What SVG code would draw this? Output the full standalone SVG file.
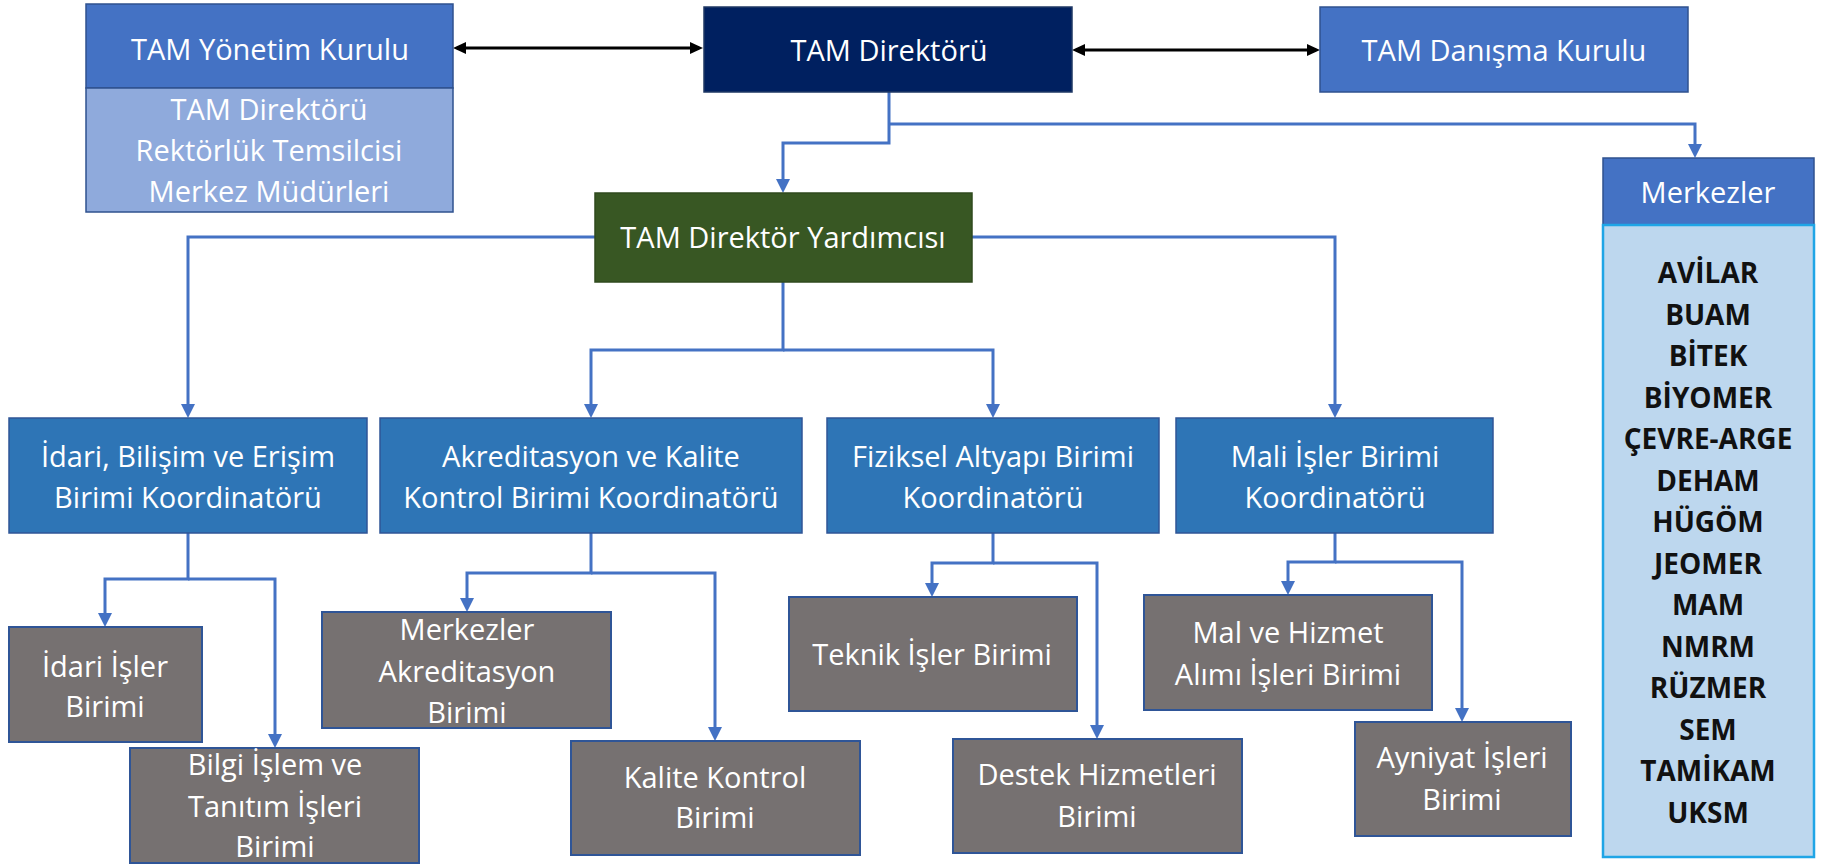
<svg xmlns="http://www.w3.org/2000/svg" width="1823" height="864" viewBox="0 0 1823 864">
<style>
text{font-family:"Open Sans","Noto Sans","Liberation Sans",sans-serif;font-size:29px;fill:#fff;text-anchor:middle}
.list text{fill:#111;font-weight:bold;font-size:28px}
.hdr{fill:#4472C4;stroke:#2F528F;stroke-width:1.5}
.sub{fill:#8FAADC;stroke:#2F528F;stroke-width:1.5}
.coord{fill:#2E75B6;stroke:#2F5597;stroke-width:1.5}
.unit{fill:#767171;stroke:#2F5597;stroke-width:2}
.conn{fill:none;stroke:#4472C4;stroke-width:3}
.bi{fill:none;stroke:#000;stroke-width:3}
</style>
<defs>
<marker id="ab" markerUnits="userSpaceOnUse" markerWidth="16" markerHeight="16" refX="10" refY="7" orient="auto"><path d="M0,0 L14,7 L0,14 z" fill="#4472C4"/></marker>
<marker id="ak" markerUnits="userSpaceOnUse" markerWidth="16" markerHeight="14" refX="9" refY="6" orient="auto-start-reverse"><path d="M0,0 L13,6 L0,12 z" fill="#000"/></marker>
</defs>
<rect width="1823" height="864" fill="#fff"/>
<g id="connectors">
<path class="bi" d="M457 48 H699" marker-start="url(#ak)" marker-end="url(#ak)"/>
<path class="bi" d="M1076 50 H1316" marker-start="url(#ak)" marker-end="url(#ak)"/>
<path class="conn" d="M889 92 V143 H783 V189" marker-end="url(#ab)"/>
<path class="conn" d="M889 124 H1695 V154" marker-end="url(#ab)"/>
<path class="conn" d="M595 237 H188 V414" marker-end="url(#ab)"/>
<path class="conn" d="M972 237 H1335 V414" marker-end="url(#ab)"/>
<path class="conn" d="M783 282 V350 H591 V414" marker-end="url(#ab)"/>
<path class="conn" d="M783 350 H993 V414" marker-end="url(#ab)"/>
<path class="conn" d="M188 533 V579 H105 V623" marker-end="url(#ab)"/>
<path class="conn" d="M188 579 H275 V744" marker-end="url(#ab)"/>
<path class="conn" d="M591 533 V573 H467 V608" marker-end="url(#ab)"/>
<path class="conn" d="M591 573 H715 V737" marker-end="url(#ab)"/>
<path class="conn" d="M993 533 V563 H932 V593" marker-end="url(#ab)"/>
<path class="conn" d="M993 563 H1097 V735" marker-end="url(#ab)"/>
<path class="conn" d="M1335 533 V562 H1288 V591" marker-end="url(#ab)"/>
<path class="conn" d="M1335 562 H1462 V718" marker-end="url(#ab)"/>
</g>
<g id="yonetim">
<rect class="hdr" x="86" y="4" width="367" height="84"/>
<rect class="sub" x="86" y="88" width="367" height="124"/>
<text x="270" y="60">TAM Yönetim Kurulu</text>
<text x="269" y="120">TAM Direktörü</text>
<text x="269" y="161">Rektörlük Temsilcisi</text>
<text x="269" y="202">Merkez Müdürleri</text>
</g>
<g id="direktor">
<rect x="704" y="7" width="368" height="85" fill="#002060" stroke="#1F3864" stroke-width="1.5"/>
<text x="889" y="61">TAM Direktörü</text>
</g>
<g id="danisma">
<rect class="hdr" x="1320" y="7" width="368" height="85"/>
<text x="1504" y="61">TAM Danışma Kurulu</text>
</g>
<g id="yardimci">
<rect x="595" y="193" width="377" height="89" fill="#385723" stroke="#2F4A1E" stroke-width="1.5"/>
<text x="783" y="248">TAM Direktör Yardımcısı</text>
</g>
<g id="merkezler">
<rect class="hdr" x="1603" y="158" width="211" height="67"/>
<text x="1708" y="203">Merkezler</text>
<rect x="1603" y="225" width="211" height="632" fill="#BDD7EE" stroke="#1FA5E6" stroke-width="2.5"/>
<g class="list">
<text x="1708" y="283">AVİLAR</text>
<text x="1708" y="325">BUAM</text>
<text x="1708" y="366">BİTEK</text>
<text x="1708" y="408">BİYOMER</text>
<text x="1708" y="449">ÇEVRE-ARGE</text>
<text x="1708" y="491">DEHAM</text>
<text x="1708" y="532">HÜGÖM</text>
<text x="1708" y="574">JEOMER</text>
<text x="1708" y="615">MAM</text>
<text x="1708" y="657">NMRM</text>
<text x="1708" y="698">RÜZMER</text>
<text x="1708" y="740">SEM</text>
<text x="1708" y="781">TAMİKAM</text>
<text x="1708" y="823">UKSM</text>
</g>
</g>
<g id="idari-koord">
<rect class="coord" x="9" y="418" width="358" height="115"/>
<text x="188" y="467">İdari, Bilişim ve Erişim</text>
<text x="188" y="508">Birimi Koordinatörü</text>
</g>
<g id="akr-koord">
<rect class="coord" x="380" y="418" width="422" height="115"/>
<text x="591" y="467">Akreditasyon ve Kalite</text>
<text x="591" y="508">Kontrol Birimi Koordinatörü</text>
</g>
<g id="fiz-koord">
<rect class="coord" x="827" y="418" width="332" height="115"/>
<text x="993" y="467">Fiziksel Altyapı Birimi</text>
<text x="993" y="508">Koordinatörü</text>
</g>
<g id="mali-koord">
<rect class="coord" x="1176" y="418" width="317" height="115"/>
<text x="1335" y="467">Mali İşler Birimi</text>
<text x="1335" y="508">Koordinatörü</text>
</g>
<g id="idari-isler">
<rect class="unit" x="9" y="627" width="193" height="115"/>
<text x="105" y="677">İdari İşler</text>
<text x="105" y="717">Birimi</text>
</g>
<g id="bilgi-islem">
<rect class="unit" x="130" y="748" width="289" height="115"/>
<text x="275" y="775">Bilgi İşlem ve</text>
<text x="275" y="817">Tanıtım İşleri</text>
<text x="275" y="857">Birimi</text>
</g>
<g id="merkezler-akr">
<rect class="unit" x="322" y="612" width="289" height="116"/>
<text x="467" y="640">Merkezler</text>
<text x="467" y="682">Akreditasyon</text>
<text x="467" y="723">Birimi</text>
</g>
<g id="kalite">
<rect class="unit" x="571" y="741" width="289" height="114"/>
<text x="715" y="788">Kalite Kontrol</text>
<text x="715" y="828">Birimi</text>
</g>
<g id="teknik">
<rect class="unit" x="789" y="597" width="288" height="114"/>
<text x="932" y="665">Teknik İşler Birimi</text>
</g>
<g id="destek">
<rect class="unit" x="953" y="739" width="289" height="114"/>
<text x="1097" y="785">Destek Hizmetleri</text>
<text x="1097" y="827">Birimi</text>
</g>
<g id="mal-hizmet">
<rect class="unit" x="1144" y="595" width="288" height="115"/>
<text x="1288" y="643">Mal ve Hizmet</text>
<text x="1288" y="685">Alımı İşleri Birimi</text>
</g>
<g id="ayniyat">
<rect class="unit" x="1355" y="722" width="216" height="114"/>
<text x="1462" y="768">Ayniyat İşleri</text>
<text x="1462" y="810">Birimi</text>
</g>
</svg>
